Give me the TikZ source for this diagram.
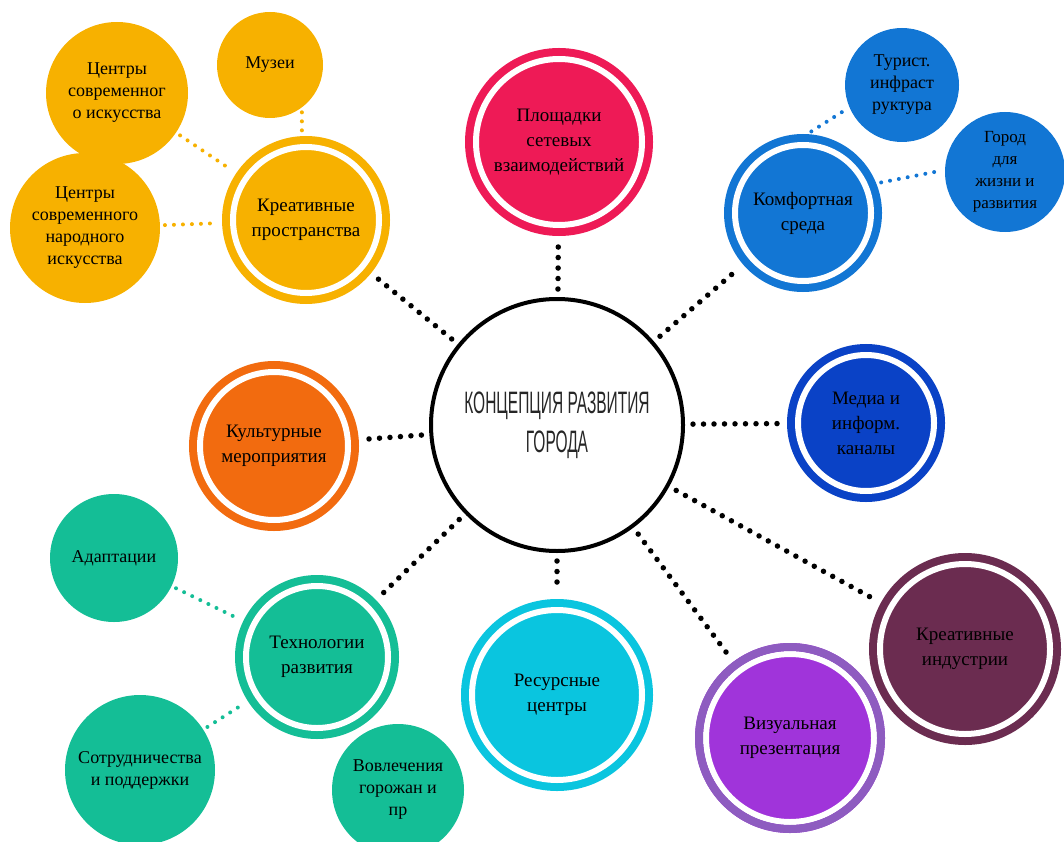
\documentclass[tikz,border=0pt]{standalone}
\usepackage{fontspec}
\setmainfont{Liberation Serif}
\newfontfamily\hubfont[FakeStretch=0.5]{Liberation Sans}
\definecolor{creative}{RGB}{247,177,0}
\definecolor{network}{RGB}{238,26,86}
\definecolor{comfort}{RGB}{18,118,212}
\definecolor{media}{RGB}{10,66,198}
\definecolor{industry}{RGB}{107,44,80}
\definecolor{visfill}{RGB}{160,52,218}
\definecolor{visring}{RGB}{142,92,192}
\definecolor{resource}{RGB}{10,197,223}
\definecolor{tech}{RGB}{20,190,150}
\definecolor{event}{RGB}{242,107,15}
\usetikzlibrary{calc}

\tikzset{
  hub/.style={circle, draw=black, line width=4pt, minimum size=252pt, inner sep=0pt, outer sep=2pt, align=center, font=\hubfont\fontsize{31}{39}\selectfont, text=black!85},
  topic/.style={circle, fill=#1, draw=#1, double=white, double distance=6pt, line width=8pt, inner sep=0pt, outer sep=11pt, align=center, font=\fontsize{19}{25}\selectfont, text=black},
  sat/.style={circle, fill=#1, inner sep=0pt, outer sep=0pt, align=center, font=\fontsize{18}{22}\selectfont, text=black},
  link/.style={line width=5.5pt, line cap=round, dash pattern=on 0pt off 10.5pt, shorten >=8pt, shorten <=8pt},
  satlink/.style={draw=#1, line width=4pt, line cap=round, dash pattern=on 0pt off 9pt, shorten >=5pt, shorten <=5pt}
}

\begin{document}
\begin{tikzpicture}[x=1pt,y=-1pt]
\useasboundingbox (0,0) rectangle (1064,842);

% centre
\node[hub] (hub) at (557,425) {КОНЦЕПЦИЯ РАЗВИТИЯ\\ГОРОДА};

% main topics
\node[topic=creative, minimum size=146pt] (space) at (306,220) {Креативные\\пространства};
\node[topic=network, minimum size=166pt] (network) at (559,142) {Площадки\\сетевых\\взаимодействий};
\node[topic=comfort, minimum size=136pt] (comfort) at (803,213) {Комфортная\\среда};
\node[topic=media, minimum size=136pt] (media) at (866,423) {Медиа и\\информ.\\каналы};
\node[topic=industry, minimum size=170pt] (industry) at (965,649) {Креативные\\индустрии};
\node[topic=visfill, minimum size=168pt] (visual) at (790,738) {Визуальная\\презентация};
\draw[visring, line width=8pt] (visual.center) circle (91pt);
\node[topic=resource, minimum size=170pt] (resource) at (557,695) {Ресурсные\\центры};
\node[topic=tech, minimum size=142pt] (techdev) at (317,657) {Технологии\\развития};
\node[topic=event, minimum size=148pt] (events) at (274,446) {Культурные\\мероприятия};

% satellites
\node[sat=creative, minimum size=106pt] (museum) at (270,65) {Музеи};
\node[sat=creative, minimum size=142pt] (modern) at (117,93) {Центры\\современног\\о искусства};
\node[sat=creative, minimum size=150pt] (folk) at (85,228) {Центры\\современного\\народного\\искусства};
\node[sat=comfort, minimum size=114pt] (tourism) at (902,85) {Турист.\\инфраст\\руктура};
\node[sat=comfort, minimum size=120pt, font=\fontsize{17}{22}\selectfont] (living) at (1005,172) {Город\\для\\жизни и\\развития};
\node[sat=tech, minimum size=128pt] (adapt) at (114,558) {Адаптации};
\node[sat=tech, minimum size=150pt] (support) at (140,770) {Сотрудничества\\и поддержки};
\node[sat=tech, minimum size=132pt] (citizens) at (398,790) {Вовлечения\\горожан и\\пр};

% links to the centre
\foreach \t in {space,network,comfort,media,industry,visual,resource,techdev,events}
  \draw[link] (hub) -- (\t);

% links to satellites
\draw[satlink=creative] (museum.-53) -- (museum.-53 |- space.north);
\draw[satlink=creative] (modern) -- (space);
\draw[satlink=creative] (folk) -- (space);
\draw[satlink=comfort] (comfort.87) -- (tourism.203);
\draw[satlink=comfort] (comfort.22) -- (living.178);
\draw[satlink=tech] (adapt) -- (techdev);
\draw[satlink=tech] (support) -- (techdev);
\end{tikzpicture}
\end{document}
